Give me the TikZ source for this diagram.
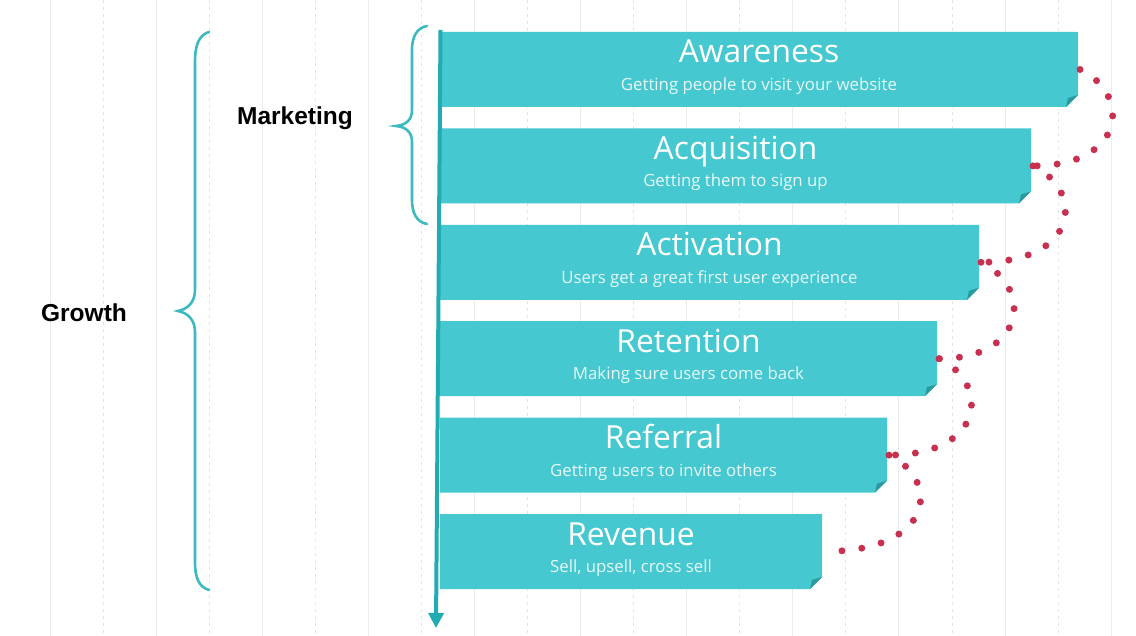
\documentclass[tikz,border=0pt]{standalone}
\usepackage{fontspec}
\setmainfont{Open Sans}
\newfontfamily\labfont{Liberation Sans}
\usetikzlibrary{arrows.meta,calc}
\definecolor{barteal}{HTML}{45C8CF}
\definecolor{folddark}{HTML}{2A9AA0}
\definecolor{arrowteal}{HTML}{22ABB3}
\definecolor{braceteal}{HTML}{3DB9C0}
\definecolor{dotred}{HTML}{C83050}
\definecolor{gridsolid}{HTML}{EBEBEB}
\definecolor{griddash}{HTML}{E3E3E3}
\tikzset{
  gridline/.style={draw=gridsolid, line width=1pt},
  griddashed/.style={draw=griddash, line width=1pt, dash pattern=on 3pt off 4pt},
  barshape/.style={fill=barteal, draw=none},
  foldshape/.style={fill=folddark, draw=none},
  titletext/.style={text=white, font=\fontsize{31.8}{31.8}\selectfont, anchor=base, inner sep=0pt},
  subtext/.style={text=white!88!barteal, font=\fontsize{16.8}{16.8}\selectfont, anchor=base, inner sep=0pt},
  bracestyle/.style={draw=braceteal, line width=2.6pt, line cap=round},
  labeltext/.style={font=\labfont\bfseries\fontsize{24.5}{24.5}\selectfont, anchor=center, inner sep=0pt},
  dotline/.style={draw=dotred, line width=7pt, line cap=round, dash pattern=on 0pt off 20pt},
  mainarrow/.style={draw=arrowteal, line width=4pt, -{Triangle[length=15pt,width=15pt]}}
}
% #1 name, #2 top, #3 right, #4 title, #5 subtitle
\newcommand\funnelbar[5]{%
  \fill[barshape] (440,#2) -- (#3,#2) -- (#3,#2+63) -- (#3-12,#2+75) -- (440,#2+75) -- cycle;
  \fill[foldshape] (#3,#2+63) -- (#3-12,#2+75) -- (#3-10,#2+66) -- cycle;
  \node[titletext] (#1t) at ({(440+#3)/2},#2+31) {#4};
  \node[subtext] (#1s) at ({(440+#3)/2},#2+58.5) {#5};
  \coordinate (#1r) at (#3+2,#2+37.5);
}
\newcommand\funnellink[2]{%
  \draw[dotline] (#1) .. controls ($(#1)+(52,25)$) and ($(#1|-#2)+(46,0)$) .. (#2);
}
\begin{document}
\begin{tikzpicture}[x=1pt,y=-1pt]
\fill[white] (0,0) rectangle (1136,636);
\useasboundingbox (0,0) rectangle (1136,636);
% grid
\foreach \k in {0,2,...,20} {\draw[gridline] ({50+53.06*\k},0) -- ({50+53.06*\k},636);}
\foreach \k in {1,3,...,19} {\draw[griddashed] ({50+53.06*\k},0) -- ({50+53.06*\k},636);}
% bars
\funnelbar{aw}{32}{1078}{Awareness}{Getting people to visit your website}
\funnelbar{ac}{128.4}{1031}{Acquisition}{Getting them to sign up}
\funnelbar{at}{224.8}{979}{Activation}{Users get a great first user experience}
\funnelbar{re}{321.2}{937}{Retention}{Making sure users come back}
\funnelbar{rf}{417.6}{887}{Referral}{Getting users to invite others}
\funnelbar{rv}{514}{822}{Revenue}{Sell, upsell, cross sell}
% main arrow
\coordinate (atop) at (440.5,30);
\coordinate (abot) at (436,628);
\draw[mainarrow] (atop) -- (abot);
% dotted connectors
\funnellink{awr}{acr}
\funnellink{acr}{atr}
\funnellink{atr}{rer}
\funnellink{rer}{rfr}
\funnellink{rfr}{rvr}
% braces
\draw[bracestyle] (427,26) .. controls (416,28) and (412,38) .. (412,50) -- (412,110)
  .. controls (412,120) and (406,125) .. (396,126) .. controls (406,127) and (412,132) .. (412,142)
  -- (412,200) .. controls (412,212) and (416,222) .. (427,224);
\draw[bracestyle] (209,32) .. controls (199,35) and (195,45) .. (195,62) -- (195,290)
  .. controls (195,302) and (188,309) .. (178,311) .. controls (188,313) and (195,320) .. (195,332)
  -- (195,562) .. controls (195,578) and (199,587) .. (209,590);
% labels
\node[labeltext] (mk) at (295,118) {Marketing};
\node[labeltext] (gr) at (84,313) {Growth};
\end{tikzpicture}
\end{document}
